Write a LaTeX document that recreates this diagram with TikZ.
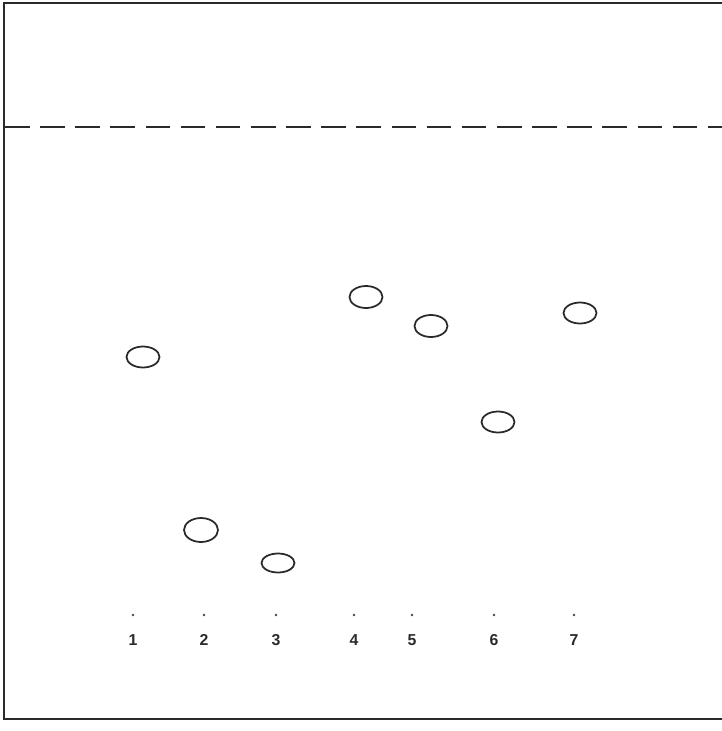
\documentclass[tikz,border=0pt]{standalone}
\usepackage{fontspec}
\setsansfont{Liberation Sans}
\usetikzlibrary{shapes.geometric}
\definecolor{tlcink}{HTML}{2A2A2A}
\definecolor{tlcgray}{HTML}{4A4A4A}
\tikzset{
  plate/.style={draw=tlcink,line width=1.1pt},
  front/.style={draw=tlcink,line width=1pt,dash pattern=on 14pt off 6pt},
  spot/.style={ellipse,draw=tlcink,line width=1pt,minimum width=.66cm,minimum height=.42cm,inner sep=0pt},
  origin/.style={circle,fill=tlcgray,inner sep=0pt,minimum size=1.6pt},
  lane/.style={font=\sffamily\bfseries\small,text=tlcink},
}
\begin{document}
\begin{tikzpicture}[x=0.02cm,y=-0.02cm]
  \useasboundingbox (0,0) rectangle (722,731);
  % plate outline (open on the right)
  \draw[plate] (722,3)--(4,3)--(4,719)--(722,719);
  % solvent front
  \coordinate (fl) at (5,127);
  \coordinate (fr) at (722,127);
  \draw[front] (fl)--(fr);
  % spots after development
  \node[spot] (s1) at (143,357) {};
  \node[spot,minimum width=.68cm,minimum height=.48cm] (s2) at (201,530) {};
  \node[spot,minimum height=.38cm] (s3) at (278,563) {};
  \node[spot,minimum height=.44cm] (s4) at (366,297) {};
  \node[spot,minimum height=.44cm] (s5) at (431,326) {};
  \node[spot] (s6) at (498,422) {};
  \node[spot] (s7) at (580,313) {};
  % starting points and lane numbers
  \foreach \n/\x in {1/133,2/204,3/276,4/354,5/412,6/494,7/574}{
    \node[origin] (o\n) at (\x,615) {};
    \node[lane] (l\n) at (\x,640) {\n};
  }
\end{tikzpicture}
\end{document}
